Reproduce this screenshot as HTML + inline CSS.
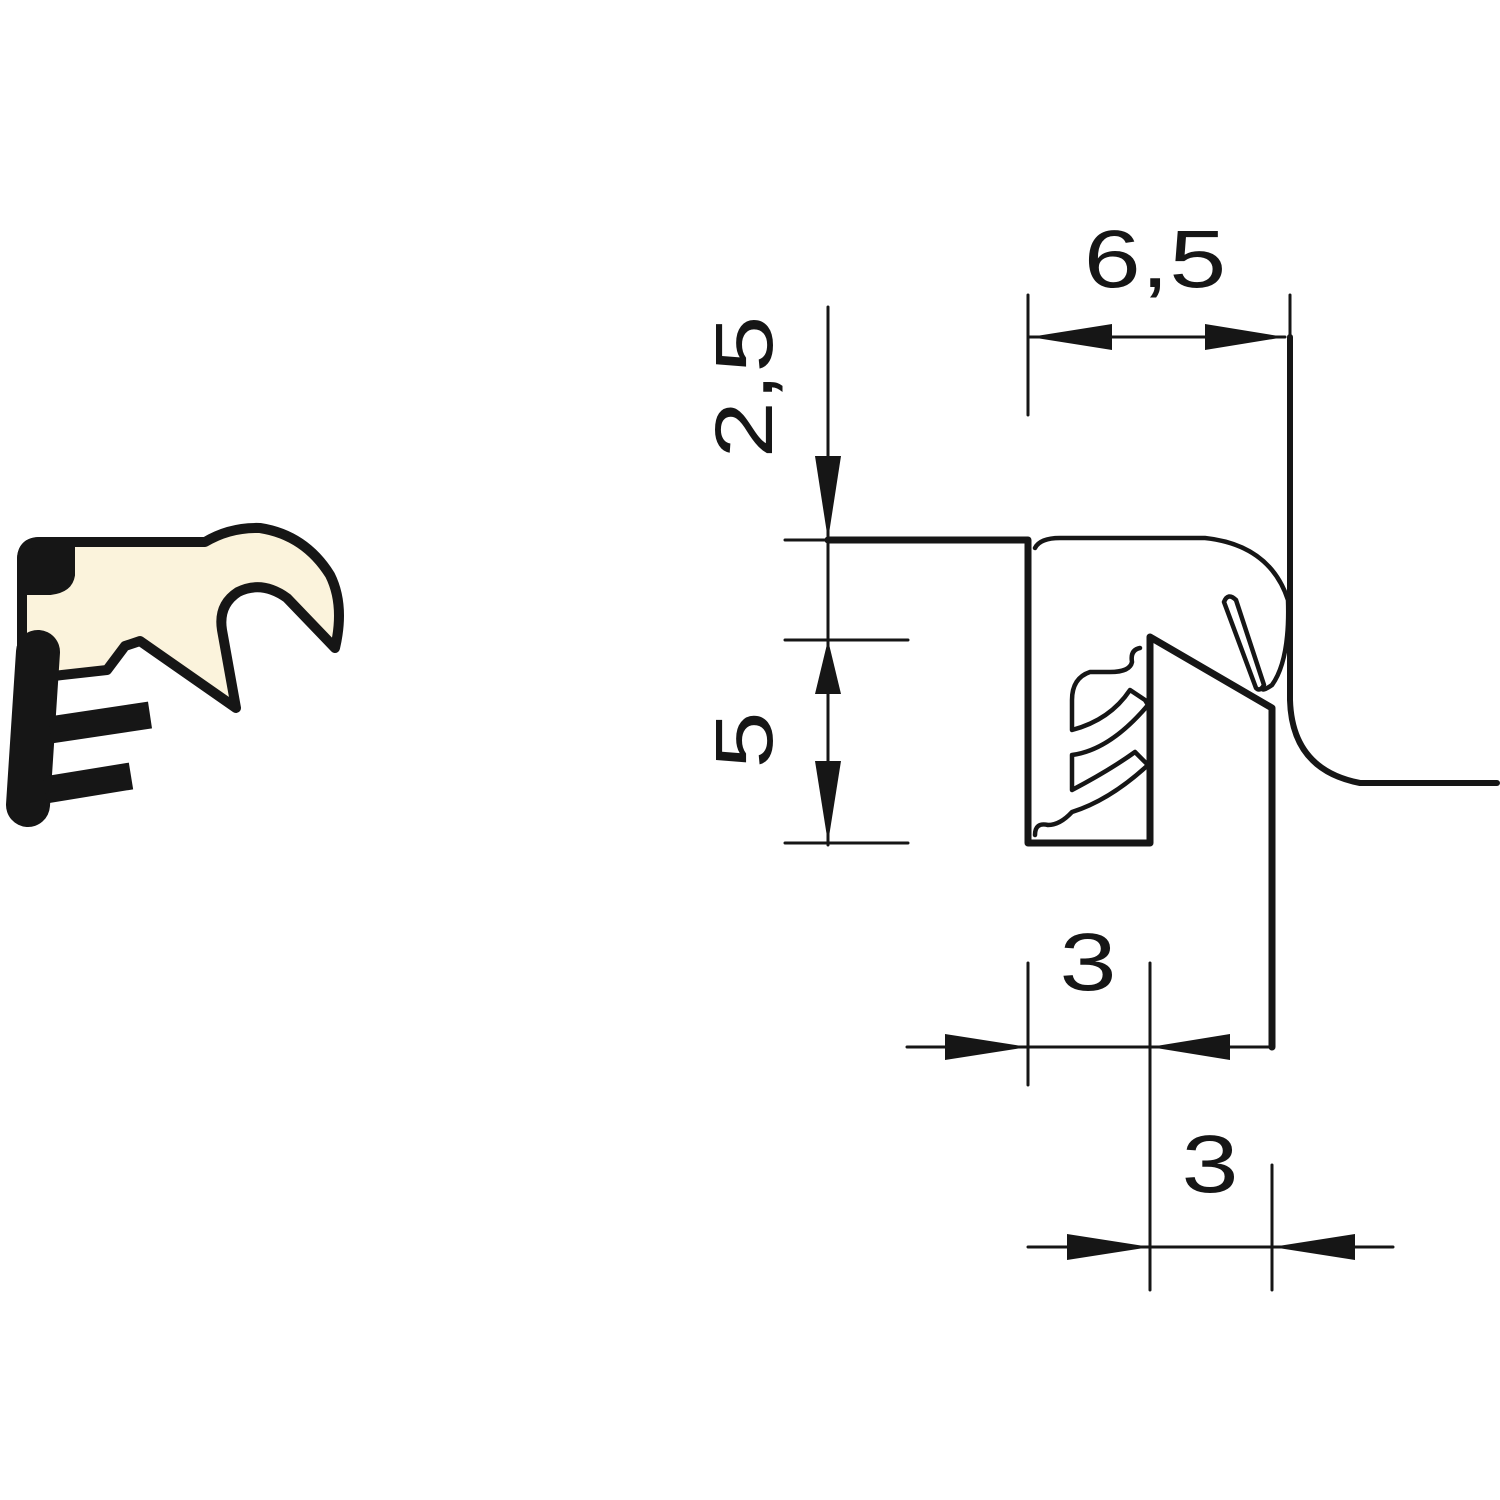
<!DOCTYPE html>
<html><head><style>html,body{margin:0;padding:0;background:#fff}svg{display:block}</style></head><body>
<svg width="1500" height="1500" viewBox="0 0 1500 1500" xmlns="http://www.w3.org/2000/svg">
<rect width="1500" height="1500" fill="#fff"/>
<!-- left icon -->
<path d="M40,542 L205,542 Q230,527 260,528 Q305,535 330,575 Q345,605 335,648 L287,598 Q262,580 238,592 Q218,605 222,630 L236,708 L140,641 L125,646 L107,670 L62,675 L22,680 L22,560 Q22,542 40,542 Z" fill="#fbf3dc" stroke="#161616" stroke-width="10" stroke-linejoin="round"/>
<path d="M22,560 Q22,542 40,542 L70,542 L70,575 Q68,588 50,590 L22,590 Z" fill="#161616" stroke="#161616" stroke-width="10" stroke-linejoin="round"/>
<path d="M38,652 L28,805" stroke="#161616" stroke-width="44" stroke-linecap="round"/>
<path d="M50,730 L150,715" stroke="#161616" stroke-width="27"/>
<path d="M45,790 L131,776" stroke="#161616" stroke-width="27"/>
<!-- main profile -->
<g fill="none" stroke="#161616" stroke-linejoin="round" stroke-linecap="round">
<path d="M828,540 L1028,540 L1028,843 L1150,843 L1150,637 L1272,708 L1272,1047" stroke-width="7"/>
<path d="M1290,337 L1290,700 Q1292,770 1360,783 L1497,783" stroke-width="6"/>
<path d="M1035,548 Q1040,538 1060,538 L1205,538 Q1270,545 1288,600 Q1290,660 1272,685 Q1262,692 1262,688" stroke-width="4.5"/>
<path d="M1224,602 Q1228,592 1236,600 L1264,685 Q1260,692 1256,688 Z" stroke-width="4.5"/>
<path d="M1140,648 Q1130,650 1132,662 Q1130,672 1110,672 L1090,672 Q1072,678 1072,700 L1072,730 Q1110,720 1130,690 L1145,700 L1148,705 Q1110,750 1072,755 L1072,790 Q1110,770 1135,752 L1148,765 Q1110,800 1072,812 Q1060,825 1048,825 Q1035,822 1035,835" stroke-width="4.5"/>
<!-- dims -->
<g stroke-width="3">
<path d="M828,307 L828,845"/>
<path d="M785,540 L835,540 M785,640 L908,640 M785,843 L908,843"/>
<path d="M1028,295 L1028,415 M1290,295 L1290,340 M1028,337 L1285,337"/>
<path d="M907,1047 L1272,1047 M1028,963 L1028,1085 M1150,963 L1150,1290"/>
<path d="M1028,1247 L1393,1247 M1272,1165 L1272,1290"/>
</g>
</g>
<g fill="#161616">
<polygon points="828,540 815,456 841,456"/>
<polygon points="828,640 815,694 841,694"/>
<polygon points="828,843 815,761 841,761"/>
<polygon points="1030,337 1112,324 1112,350"/>
<polygon points="1285,337 1205,324 1205,350"/>
<polygon points="1028,1047 945,1034 945,1060"/>
<polygon points="1150,1047 1230,1034 1230,1060"/>
<polygon points="1150,1247 1067,1234 1067,1260"/>
<polygon points="1272,1247 1355,1234 1355,1260"/>
</g>
<g font-family="Liberation Sans, sans-serif" font-size="82" fill="#161616" text-anchor="middle">
<text transform="translate(1155,287) scale(1.25,1)">6,5</text>
<text transform="translate(1088,990) scale(1.25,1)">3</text>
<text transform="translate(1210,1192) scale(1.25,1)">3</text>
<text transform="translate(772,387) rotate(-90) scale(1.25,1)">2,5</text>
<text transform="translate(772,740) rotate(-90) scale(1.25,1)">5</text>
</g>
</svg>
</body></html>
